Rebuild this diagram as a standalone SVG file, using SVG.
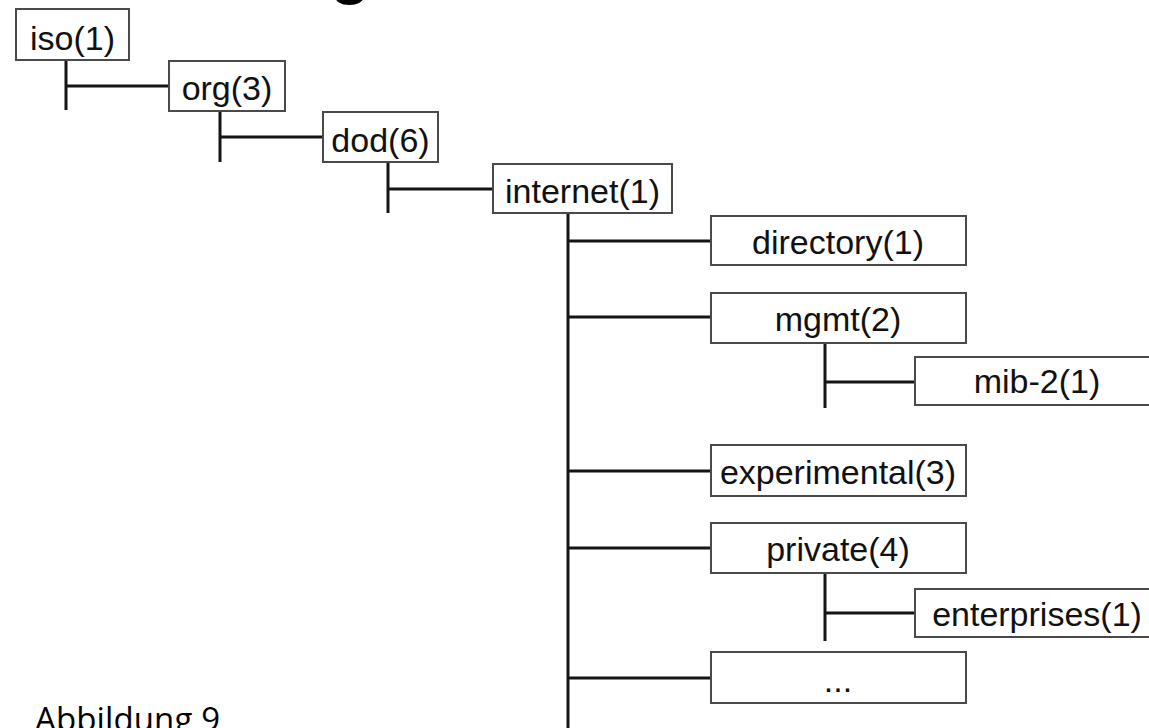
<svg xmlns="http://www.w3.org/2000/svg" width="1149" height="728" viewBox="0 0 1149 728">
<style>
.box{fill:#fff;stroke:#4a4a4a;stroke-width:2}
.lbl{font-family:"Liberation Sans",Arial,sans-serif;font-size:34px;fill:#111;text-anchor:middle}
.con{stroke:#151515;stroke-width:3;fill:none}
</style>
<rect width="1149" height="728" fill="#fff"/>
<text x="350" y="-10" font-family="Liberation Sans,Arial,sans-serif" font-size="75" text-anchor="middle" fill="#000">g</text>
<g id="connectors" class="con">
<path d="M66 60V110M66 86H169"/>
<path d="M220 111V162M220 137H323"/>
<path d="M388 162V213M388 189H493"/>
<path d="M568 213V728M568 241H711M568 317H711M568 471H711M568 548H711M568 678H711"/>
<path d="M825 343V408M825 382H915"/>
<path d="M825 573V641M825 613H915"/>
</g>
<g id="iso"><rect class="box" x="16" y="9" width="113" height="51"/><text class="lbl" x="72.5" y="50">iso(1)</text></g>
<g id="org"><rect class="box" x="169" y="61" width="116" height="50"/><text class="lbl" x="227" y="100">org(3)</text></g>
<g id="dod"><rect class="box" x="323" y="112" width="115" height="50"/><text class="lbl" x="380.5" y="152">dod(6)</text></g>
<g id="internet"><rect class="box" x="493" y="164" width="179" height="49"/><text class="lbl" x="582.5" y="203">internet(1)</text></g>
<g id="directory"><rect class="box" x="711" y="216" width="255" height="49"/><text class="lbl" x="838" y="254">directory(1)</text></g>
<g id="mgmt"><rect class="box" x="711" y="293" width="255" height="50"/><text class="lbl" x="838" y="331">mgmt(2)</text></g>
<g id="mib-2"><rect class="box" x="915" y="357" width="250" height="48"/><text class="lbl" x="1037" y="393">mib-2(1)</text></g>
<g id="experimental"><rect class="box" x="711" y="445" width="255" height="51"/><text class="lbl" x="838" y="484">experimental(3)</text></g>
<g id="private"><rect class="box" x="711" y="523" width="255" height="50"/><text class="lbl" x="838" y="561">private(4)</text></g>
<g id="enterprises"><rect class="box" x="915" y="589" width="250" height="48"/><text class="lbl" x="1037" y="626">enterprises(1)</text></g>
<g id="more"><rect class="box" x="711" y="652" width="255" height="51"/><text class="lbl" x="838" y="692">...</text></g>
<text x="35" y="731" font-family="Open Sans,Noto Sans,sans-serif" font-size="33" fill="#000" textLength="185">Abbildung 9</text>
</svg>
